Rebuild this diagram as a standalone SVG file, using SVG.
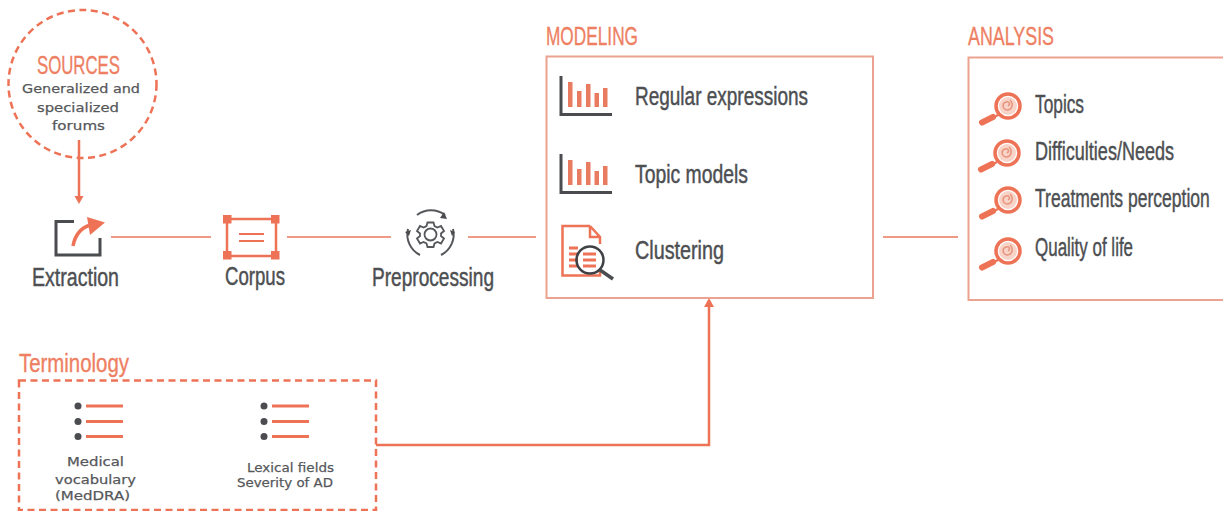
<svg xmlns="http://www.w3.org/2000/svg" width="1223" height="511" viewBox="0 0 1223 511">
<style>
text{font-family:"Liberation Sans Narrow","Liberation Sans",Arial,sans-serif}
.h{fill:#ee7f63;stroke:#ee7f63;stroke-width:.35;font-size:26px}
.l{fill:#4d4f52;stroke:#4d4f52;stroke-width:.45;font-size:25px}
.s{fill:#55575a;stroke:#55575a;stroke-width:.25;font-family:"DejaVu Sans","Liberation Sans",sans-serif;font-size:13px}
.box{fill:none;stroke:#eba28f;stroke-width:2}
.dash{fill:none;stroke:#ee7356;stroke-width:2.5;stroke-dasharray:7 4.5}
.c{fill:none;stroke:#ee9a84;stroke-width:2}
.o{fill:none;stroke:#ee7356;stroke-width:2.5}
.d{fill:none;stroke:#4a4c4f;stroke-width:3}
.of{fill:#ee7356}
.df{fill:#4a4c4f}
.bar{fill:#e97b60}
.ln{fill:none;stroke:#ee7356;stroke-width:3}
</style>
<defs>
<g id="chart">
<path class="d" d="M561,76V114.500H612"/>
<rect class="bar" x="568" y="82" width="4.500" height="25"/>
<rect class="bar" x="577" y="91" width="4.500" height="16"/>
<rect class="bar" x="586" y="84" width="4.500" height="23"/>
<rect class="bar" x="594.500" y="93" width="4.500" height="14"/>
<rect class="bar" x="603" y="88" width="4.500" height="19"/>
</g>
<g id="mag">
<circle cx="1008" cy="106" r="9" fill="#f8d3c7"/>
<circle class="o" cx="1008" cy="106" r="12" style="stroke-width:3.5"/>
<path d="M1008,106c3,-2 1,-5 -2,-4c-4,1 -4,7 1,8c5,0 7,-6 3,-10" fill="none" stroke="#e8937c" stroke-width="1.500"/>
<path class="o" d="M998,115L992,118" style="stroke-width:2.5"/>
<path d="M993,117L982,122.500" fill="none" stroke="#ee7356" stroke-width="6" stroke-linecap="round"/>
</g>
<g id="list">
<circle class="df" cx="78" cy="406" r="3.500"/><circle class="df" cx="78" cy="421.500" r="3.500"/><circle class="df" cx="78" cy="436.500" r="3.500"/>
<path class="ln" d="M86,406H123M86,421.500H123M86,436.500H123"/>
</g>
</defs>
<g id="connectors">
<path class="c" d="M111,237H211M287,237H391M468,237H536M883,237H958"/>
<path class="o" d="M79,140V197"/>
<path class="of" d="M79,204L74.500,196H83.500Z"/>
<path class="o" d="M376,445H709V306"/>
<path class="of" d="M709,298L714,307H704Z"/>
</g>
<g id="sources">
<circle cx="82.500" cy="84" r="74" class="dash"/>
<text class="h" x="37" y="74" textLength="83" lengthAdjust="spacingAndGlyphs">SOURCES</text>
<text class="s" x="22" y="93" textLength="118" lengthAdjust="spacingAndGlyphs">Generalized and</text>
<text class="s" x="37" y="112" textLength="82" lengthAdjust="spacingAndGlyphs">specialized</text>
<text class="s" x="52" y="130" textLength="53" lengthAdjust="spacingAndGlyphs">forums</text>
</g>
<g id="extraction">
<path class="d" d="M74,221.500H56V255H100V238"/>
<path class="o" d="M73,246C75,235 81,228 90,225" style="stroke-width:3.5"/>
<path class="of" d="M87,217L105,222.500L90,235Z"/>
<text class="l" x="32" y="286" textLength="87" lengthAdjust="spacingAndGlyphs">Extraction</text>
</g>
<g id="corpus">
<rect class="o" x="227" y="219" width="49" height="37"/>
<rect class="of" x="223" y="215" width="8.500" height="8.500"/><rect class="of" x="271" y="215" width="8.500" height="8.500"/><rect class="of" x="223" y="251" width="8.500" height="8.500"/><rect class="of" x="271" y="251" width="8.500" height="8.500"/>
<path d="M239,234H264M239,241H264" fill="none" stroke="#ee7356" stroke-width="1.800"/>
<text class="l" x="225" y="285" textLength="60" lengthAdjust="spacingAndGlyphs">Corpus</text>
</g>
<g id="preprocessing">
<g fill="none" stroke="#55575a" stroke-width="1.800">
<circle cx="430.500" cy="234.500" r="6"/>
<path d="M427.500,222.500h6l1,3.500l3,1.500l3.500,-1.500l3,5l-3,2.500v2.500l3,2.500l-3,5l-3.500,-1.500l-3,1.500l-1,3.500h-6l-1,-3.500l-3,-1.500l-3.500,1.500l-3,-5l3,-2.500v-2.500l-3,-2.500l3,-5l3.500,1.500l3,-1.500z"/>
</g>
<g fill="none" stroke="#55575a" stroke-width="2">
<path d="M417,215A23,23 0 0 1 445,215"/>
<path d="M408,229A23,23 0 0 0 420,255"/>
<path d="M453,229A23,23 0 0 1 441,255"/>
</g>
<path class="df" d="M444,212L447,219L440,218ZM405,232L411,230L409,236ZM455,232L450,230L452,236Z"/>
<text class="l" x="372" y="286" textLength="122" lengthAdjust="spacingAndGlyphs">Preprocessing</text>
</g>
<g id="modeling">
<text class="h" x="546" y="45" textLength="92" lengthAdjust="spacingAndGlyphs">MODELING</text>
<rect class="box" x="546.500" y="56.500" width="326.500" height="241.500"/>
<use href="#chart"/>
<text class="l" x="635" y="105" textLength="173" lengthAdjust="spacingAndGlyphs">Regular expressions</text>
<use href="#chart" y="78"/>
<text class="l" x="635" y="183" textLength="113" lengthAdjust="spacingAndGlyphs">Topic models</text>
<path class="o" d="M590,226H562.500V275.500H600V270M590,226L600,237V244M590,226V237H600"/>
<path class="ln" d="M569,248H578M569,254H578M569,260H578M569,266H578M583,254H596M583,260H596M583,266H596"/>
<circle cx="590" cy="260" r="13.500" fill="none" stroke="#3f4144" stroke-width="2.500"/>
<path class="d" d="M600,270L613,279" style="stroke-width:3.5"/>
<text class="l" x="635" y="259" textLength="89" lengthAdjust="spacingAndGlyphs">Clustering</text>
</g>
<g id="analysis">
<text class="h" x="968" y="45" textLength="86" lengthAdjust="spacingAndGlyphs">ANALYSIS</text>
<rect class="box" x="968.500" y="57.500" width="260" height="242.500"/>
<use href="#mag"/>
<text class="l" transform="translate(1035,113) scale(0.76,1)" textLength="64.500" lengthAdjust="spacingAndGlyphs">Topics</text>
<use href="#mag" x="-1" y="47"/>
<text class="l" transform="translate(1035,160) scale(0.76,1)" textLength="183" lengthAdjust="spacingAndGlyphs">Difficulties/Needs</text>
<use href="#mag" y="94"/>
<text class="l" transform="translate(1035,207) scale(0.76,1)" textLength="230" lengthAdjust="spacingAndGlyphs">Treatments perception</text>
<use href="#mag" y="145"/>
<text class="l" transform="translate(1035,256) scale(0.76,1)" textLength="129" lengthAdjust="spacingAndGlyphs">Quality of life</text>
</g>
<g id="terminology">
<text class="h" x="19" y="372" textLength="110" lengthAdjust="spacingAndGlyphs">Terminology</text>
<rect class="dash" x="19" y="380.500" width="357" height="129.500"/>
<use href="#list"/>
<text class="s" x="67" y="466" textLength="57" lengthAdjust="spacingAndGlyphs">Medical</text>
<text class="s" x="55" y="484" textLength="81" lengthAdjust="spacingAndGlyphs">vocabulary</text>
<text class="s" x="55" y="500" textLength="75" lengthAdjust="spacingAndGlyphs">(MedDRA)</text>
<use href="#list" x="186"/>
<text class="s" x="247" y="472" textLength="87" lengthAdjust="spacingAndGlyphs">Lexical fields</text>
<text class="s" x="237" y="487" textLength="96" lengthAdjust="spacingAndGlyphs">Severity of AD</text>
</g>
</svg>
